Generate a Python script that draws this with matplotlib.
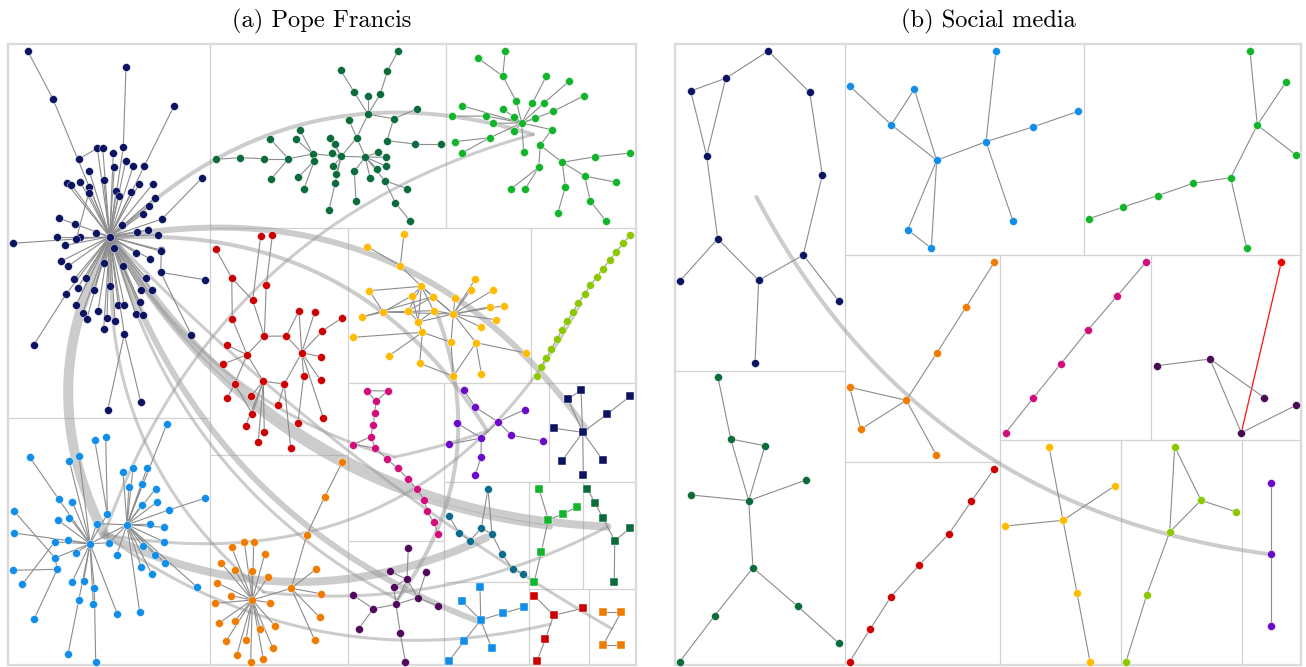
import numpy as np
import matplotlib
matplotlib.use("Agg")
import matplotlib.pyplot as plt
from matplotlib.collections import LineCollection
from matplotlib.patches import Rectangle

# ============ canvas (pixel coordinates) ============
W, H = 1306, 667
PX = 0.72  # 1 px in points at dpi 100

# ============ panel (a): treemap cells ============
A_OUTER = (8, 44, 636, 665)
A_CELLS = [
    (8, 44, 210, 418), (210, 44, 446, 228), (446, 44, 636, 228), (8, 418, 210, 665),
    (210, 228, 348, 455), (348, 228, 531, 383), (531, 228, 636, 383), (348, 383, 444, 541),
    (444, 383, 549, 482), (549, 383, 636, 482), (210, 455, 348, 665), (348, 541, 444, 665),
    (444, 482, 529, 582), (529, 482, 583, 589), (583, 482, 636, 589), (444, 582, 529, 665),
    (529, 589, 589, 665), (589, 589, 636, 665),
]

# ============ panel (a): clusters ============
NAVY_XY = [
    (109.7, 236.7), (27.7, 51), (53, 99), (126, 67), (123.3, 147.3), (174, 106), (144.3, 166), (97.3, 148.3), (102.7, 148.3), (113.3, 153),
    (78.7, 159), (125.7, 161), (133.3, 166.3), (114.3, 167), (89.3, 171), (201.7, 178.3), (162, 219), (103.7, 180.3), (66.7, 183.3), (71.3, 184.7),
    (80.3, 181.7), (139.3, 183.7), (152.7, 184), (89.3, 186.7), (116, 191), (131.3, 192), (88.7, 193), (118.7, 196.3), (154.7, 198), (149.3, 206),
    (143, 214), (58.7, 218), (74.7, 224), (122.3, 225.3), (95.7, 232.7), (137, 232), (148, 230), (157.7, 234.7), (56.7, 236.7), (80, 236.7),
    (76.3, 239), (12.7, 243.3), (65.3, 245.3), (114, 248), (161, 250), (136, 253), (149.7, 258.7), (161.3, 251.3), (61, 261.3), (68.3, 266),
    (103.7, 263.3), (123.3, 265.7), (160.7, 272.3), (204.7, 279.7), (74.3, 279), (86, 277.7), (146, 277.7), (77.7, 287.7), (94, 289.7), (110.3, 286.3),
    (141.3, 290.3), (152, 290), (66, 294.3), (76, 305), (118.3, 305), (124.3, 305), (139.7, 302.3), (82.7, 312.7), (98, 311.3), (135.7, 314),
    (143, 315), (86.7, 319.3), (107, 317.7), (115, 321.3), (103.7, 329), (124.3, 334), (191.3, 335), (33.7, 345), (140.7, 401.7), (107.7, 410.3),
]
NAVY_PARENT = [
    -1, 2, 0, 4, 0, 6, 0, 0, 0, 0,
    7, 0, 0, 0, 0, 16, 0, 0, 0, 0,
    0, 0, 0, 0, 0, 0, 0, 0, 0, 0,
    0, 32, 0, 0, 0, 0, 0, 0, 0, 0,
    26, 0, 0, 0, 0, 0, 0, 0, 0, 0,
    0, 0, 47, 52, 0, 0, 0, 0, 0, 0,
    0, 0, 0, 0, 0, 0, 0, 0, 0, 0,
    0, 0, 0, 0, 0, 0, 52, 62, 75, 75,
]

DGREEN_XY = [
    (215.7, 159.3), (239.7, 157.7), (264, 158.7), (288.3, 158.7), (270, 138.7), (271.3, 179), (312.7, 154), (300, 130), (296, 139.3), (314.3, 160.7),
    (298.3, 177.3), (304, 188.7), (341.3, 156.3), (365.3, 157), (330, 138.3), (334.7, 144), (332, 153), (333.3, 166.3), (336, 173.7), (335.3, 182.7),
    (329, 209.7), (356.7, 137.7), (349, 120), (368, 114.3), (354, 91.7), (340.7, 70.3), (368, 96), (380.3, 94), (387.3, 71.3), (398, 51),
    (393.7, 118.7), (417.3, 108.7), (387, 140.7), (415, 144), (440.7, 144), (377.7, 152.3), (385.7, 157.3), (385.7, 166), (377, 168.7), (354.3, 171.3),
    (356, 201.3), (370, 177.7), (384.7, 180.7), (407.3, 188.7), (395.3, 202.7), (410.3, 221.3),
]
DGREEN_EDGES = [
    (0, 1), (1, 2), (2, 3), (3, 4), (3, 5), (3, 6), (6, 7), (6, 8), (6, 9), (9, 10), (9, 11), (6, 12),
    (12, 14), (12, 15), (12, 16), (12, 17), (12, 18), (12, 19), (19, 20), (12, 13), (12, 21), (13, 21),
    (21, 22), (21, 23), (23, 24), (24, 25), (23, 26), (23, 27), (27, 28), (28, 29), (23, 30), (30, 31),
    (30, 32), (32, 33), (33, 34), (13, 35), (13, 36), (13, 37), (13, 38), (13, 39), (39, 40), (13, 41),
    (13, 42), (42, 43), (42, 44), (44, 45),
]

GREEN_XY = [
    (521.7, 123), (516.3, 101.3), (502.7, 76), (505.3, 51), (478.3, 58.3), (532.3, 103.3), (546.3, 76.3), (544.3, 102.7), (569, 81.3), (553.3, 111.3),
    (584, 95.7), (462, 105.7), (503.3, 109.3), (486.3, 116), (451.7, 116.3), (514.3, 116.7), (535.3, 118.3), (493.3, 123.3), (514, 131), (489.7, 137.7),
    (454.7, 141.7), (462, 153), (523.7, 152), (551.7, 129.7), (540.3, 145.3), (538.7, 167.3), (562.3, 162.3), (595.3, 156.7), (630.3, 153), (584.7, 176),
    (616.3, 182.3), (565.3, 187), (557.7, 213.3), (590.3, 201.3), (606.3, 221.3), (511.3, 188.7), (525, 189.3),
]
GREEN_PARENT = [
    -1, 0, 1, 2, 2, 0, 5, 0, 7, 0,
    9, 0, 0, 0, 13, 0, 0, 0, 0, 0,
    19, 19, 0, 0, 23, 24, 24, 26, 27, 26,
    29, 26, 31, 29, 33, 25, 25,
]

RED_XY = [
    (260.7, 235.7), (272.3, 235.3), (215.7, 249), (231.7, 278), (266.3, 285.3), (252.7, 300.3), (232.3, 318.7), (299, 310.7), (314.7, 312), (322.3, 331),
    (342.3, 317.7), (264.3, 336.3), (286.3, 336), (227.3, 345.3), (301.7, 352.7), (247, 354.7), (320.7, 356.7), (223.3, 364), (303.7, 375.7), (320.7, 380.3),
    (263.3, 381.3), (234.7, 383.7), (284.3, 384), (251.3, 395.7), (227.3, 398), (278.3, 404.7), (252.3, 414), (323.3, 418), (298, 422.7), (245.7, 425.7),
    (264.3, 431.7), (258.3, 441.7), (290.7, 448),
]
RED_EDGES = [
    (0, 5), (1, 4), (2, 3), (3, 5), (3, 6), (5, 11), (4, 11), (6, 15), (11, 15), (11, 12), (12, 7), (12, 14),
    (14, 7), (14, 8), (14, 9), (9, 10), (14, 16), (14, 19), (14, 18), (14, 22), (18, 28), (15, 13), (15, 17),
    (15, 21), (15, 20), (20, 22), (20, 23), (20, 26), (20, 30), (20, 31), (20, 29), (21, 24), (21, 26),
    (22, 25), (22, 32), (14, 27),
]

YELLOW_XY = [
    (367.3, 246.7), (404, 234), (400.3, 265.7), (475, 279.3), (369.3, 290.7), (421.3, 286.3), (470.7, 290), (493.3, 290), (412, 295.7), (433, 296.7),
    (455, 298.3), (489.7, 306.7), (504.3, 305.7), (383.3, 312), (408.3, 310.7), (433.7, 310.7), (453.3, 314), (361.7, 317), (496, 319.7), (418.3, 322),
    (481.3, 327.3), (422.3, 332.3), (353.3, 337.3), (451, 342.3), (476, 342.7), (525.7, 353), (388.7, 356), (419.7, 363.3), (453.3, 376.3), (481.3, 373.7),
]
YELLOW_EDGES = [
    (0, 2), (1, 2), (2, 5), (4, 5), (4, 13), (5, 8), (5, 9), (5, 15), (5, 19), (5, 16), (8, 13), (8, 19),
    (9, 16), (9, 14), (13, 16), (13, 17), (14, 5), (14, 19), (15, 16), (15, 19), (16, 3), (16, 6), (16, 7),
    (16, 10), (16, 11), (16, 12), (16, 18), (16, 20), (16, 23), (16, 24), (16, 19), (17, 9), (19, 21),
    (21, 22), (21, 26), (21, 27), (21, 23), (27, 28), (23, 28), (24, 28), (24, 29), (24, 25), (13, 15),
]

YGREEN_XY = [
    (536.7, 376.3), (541, 367), (546.3, 357.7), (551.3, 348.7), (556.7, 339.3), (562, 330), (567.3, 321), (572.7, 312), (578.3, 303),
    (584.7, 294), (590.3, 285.3), (596.7, 277), (603, 268.7), (609.7, 260), (616.3, 251.7), (623.3, 243.3), (630, 235.3),
]

MAGENTA_XY = [
    (366.7, 390.7), (387.7, 391), (376, 401.3), (374.7, 413), (373.3, 424.7), (370.7, 436.7), (353.3, 444.5), (375.3, 448),
    (386.7, 458.7), (397.7, 468.3), (407.7, 478.7), (417, 489.3), (424.3, 500), (427.3, 511.3), (433.7, 522.3), (438, 533.7),
]
MAGENTA_EDGES = [(0, 1), (0, 2), (1, 2), (2, 3), (3, 4), (4, 5), (5, 6), (5, 7), (6, 7), (7, 8), (8, 9),
                 (9, 10), (10, 11), (11, 12), (12, 13), (13, 14), (14, 15)]

PURPLE_XY = [(464, 390.3), (475.3, 407.3), (457, 423), (498, 421.7), (524.7, 409.7), (511.3, 435.3),
             (481.3, 438), (449, 444.3), (543.3, 441), (481, 457), (475.3, 475)]
PURPLE_EDGES = [(0, 1), (1, 3), (3, 4), (3, 5), (2, 6), (6, 3), (6, 7), (6, 9), (9, 10), (5, 8)]

NAVYSQ_XY = [(581, 390.3), (568, 399), (630, 396.3), (607.3, 414), (554.3, 428.3), (582.7, 432.3),
             (561.7, 461.3), (583.3, 474.7), (603, 460.3)]
NAVYSQ_EDGES = [(0, 1), (1, 5), (0, 5), (5, 3), (3, 2), (5, 4), (5, 6), (5, 7), (5, 8)]

TEAL_XY = [(488, 489), (448.7, 516), (459.3, 533), (470, 540.7), (481.3, 528), (492, 534.3),
           (502, 554), (512.7, 569), (523.3, 573.7)]
TEAL_EDGES = [(0, 4), (0, 5), (1, 2), (2, 3), (3, 4), (4, 5), (5, 6), (6, 7), (7, 8)]

GREENSQ_XY = [(539, 489), (548.3, 519.7), (563, 514), (576.7, 507), (541.3, 552), (534.3, 581.7)]
GREENSQ_EDGES = [(0, 1), (1, 2), (2, 3), (1, 4), (4, 5)]

DGREENSQ_XY = [(587.3, 489), (595, 502.7), (602.7, 517.7), (614.7, 540.7), (630, 528.3), (614.3, 581.7)]
DGREENSQ_EDGES = [(0, 1), (1, 2), (2, 3), (3, 4), (3, 5)]

BLUESQ_XY = [(480, 587.3), (461.7, 601), (480.7, 620), (502.7, 613.3), (523.7, 607.3),
             (464, 641.3), (448.7, 661.3), (491.7, 648.3)]
BLUESQ_EDGES = [(0, 2), (1, 2), (2, 3), (3, 4), (2, 5), (5, 6), (2, 7)]

REDSQ_XY = [(534.3, 595.7), (553.7, 615.3), (583, 608.3), (545.3, 639.3), (537, 661.3)]
REDSQ_EDGES = [(0, 1), (1, 2), (1, 3), (3, 4)]

ORANGESQ_XY = [(603, 612.3), (621, 612.3), (603, 645.3), (621, 645.3)]
ORANGESQ_EDGES = [(0, 1), (1, 2), (2, 3)]

DPURPLE_XY = [(408.3, 547.7), (389.7, 571.3), (407, 579.3), (426, 572.3), (393.7, 587), (353.3, 595.3), (417.7, 597.7),
              (438, 605.7), (396, 604.3), (373.3, 608.7), (358.7, 628.7), (400.3, 633.3), (405.3, 661.7)]
DPURPLE_EDGES = [(0, 2), (1, 2), (4, 2), (3, 6), (2, 6), (4, 8), (2, 8), (8, 6), (6, 7), (8, 9), (9, 5),
                 (9, 10), (8, 11), (11, 12)]

ORANGE_XY = [
    (252.3, 600), (291.3, 588.3), (306.7, 535), (324.7, 496.7), (342.3, 462), (315.7, 569.3), (320.7, 593.7), (319.7, 617.3), (314.7, 640), (231.7, 547.3),
    (244.3, 542), (253.7, 542), (264.7, 554), (221.3, 563.3), (235, 570), (251.7, 570.7), (268.3, 576.7), (216.7, 582.7), (231, 595.7), (215.3, 603.3),
    (270.3, 602.7), (235, 620.7), (218.7, 623.3), (275.3, 626.3), (260.3, 628.7), (226, 641.3), (246, 640), (272.7, 647.7), (236.7, 655.3), (250.7, 661.7),
    (263.3, 658.7),
]
ORANGE_PARENT = [-1, 0, 1, 2, 3, 1, 1, 1, 1, 0] + [0] * 21

BLUE_XY = [
    (90, 543.7), (127, 524.7), (29.7, 457), (58.7, 499.3), (69.3, 461), (79, 456), (94.7, 440), (105.7, 437.3), (166.7, 424.3), (123, 472.3),
    (107.3, 514), (133, 468), (147, 468.3), (128.7, 487.3), (142.3, 484.3), (155.7, 488.7), (157, 502), (72.3, 502), (204.7, 498.3), (168.7, 510),
    (141.7, 505), (13.7, 510.7), (69.3, 517.7), (57.7, 520), (96.7, 523.7), (150.3, 524.3), (164.3, 527.3), (14.3, 533), (54.7, 542), (68, 540),
    (109, 542.7), (164, 541.7), (142.7, 546.3), (76.3, 552.7), (55, 558), (116.7, 555), (155, 555), (164.7, 563), (57.3, 569.3), (12.7, 570.3),
    (141.3, 567.3), (151.7, 574), (197.3, 587.3), (22.3, 584.3), (72.3, 581.7), (83.7, 580.7), (94.3, 587.7), (78.7, 600.3), (93.3, 604), (117.3, 614),
    (139.7, 612), (34.3, 618.7), (68, 654), (95.7, 661.7),
]
BLUE_PARENT = [
    -1, 0, 3, 0, 0, 0, 10, 10, 1, 1,
    0, 1, 1, 1, 1, 1, 1, 0, 19, 1,
    1, 34, 0, 0, 0, 1, 1, 0, 0, 0,
    0, 1, 1, 0, 0, 1, 1, 1, 34, 38,
    1, 1, 1, 28, 0, 0, 0, 0, 0, 0,
    1, 38, 47, 46,
]
BLUE_EXTRA = [(24, 1), (30, 1)]

# flows between clusters (a): source, target, width in px, bend
FLOWS_A = [
    ("navy", "blue", 10, 0.27), ("blue", "teal", 8, 0.24), ("navy", "green", 4, -0.30),
    ("blue", "green", 3, -0.26), ("navy", "navysq", 6, -0.32), ("navy", "purple", 4, -0.30),
    ("navy", "dgreensq", 8, 0.26), ("navy", "greensq", 5, 0.25), ("navy", "bluesq", 6, 0.24),
    ("navy", "orange", 3, 0.26), ("navy", "dpurple", 3, 0.22), ("navy", "magenta", 3, 0.20),
    ("blue", "ygreen", 3, 0.36), ("yellow", "dpurple", 4, -0.27), ("orange", "dgreensq", 3, 0.155),
    ("blue", "redsq", 3, 0.23), ("navy", "orangesq", 3, 0.07), ("magenta", "purple", 3, 0.03),
]

# ============ panel (b) ============
B_OUTER = (675, 44, 1301, 665)
B_CELLS = [
    (675, 44, 845, 371), (845, 44, 1084, 255), (1084, 44, 1301, 255), (675, 371, 845, 665),
    (845, 255, 1000, 462), (1000, 255, 1151, 440), (1151, 255, 1301, 440), (845, 462, 1000, 665),
    (1000, 440, 1121, 665), (1121, 440, 1242, 665), (1242, 440, 1301, 665),
]

SNAVY_XY = [(768.3, 51), (725.7, 78.3), (690.7, 91), (809.7, 92.3), (706.7, 156), (822.3, 175),
            (717.7, 238.7), (803.3, 255), (758.7, 280.3), (679.7, 281.3), (839, 301.3), (755, 363.3)]
SNAVY_EDGES = [(0, 1), (0, 3), (1, 2), (1, 4), (2, 4), (3, 5), (4, 6), (5, 7), (6, 8), (6, 9),
               (8, 7), (7, 10), (8, 11)]

SBLUE_XY = [(849.7, 86), (914.3, 89.3), (891.3, 124.7), (936.7, 160.3), (986, 141.7), (907.7, 229.7),
            (931.3, 248.3), (996, 51), (1032.7, 127), (1078.3, 111.3), (1013, 221.3)]
SBLUE_EDGES = [(0, 2), (2, 1), (1, 3), (2, 3), (3, 4), (3, 5), (5, 6), (3, 6), (4, 7), (4, 8), (8, 9), (4, 10)]

SGREEN_XY = [(1250, 51), (1286, 82), (1257.3, 125), (1296, 155), (1230.7, 177.7), (1193, 183.3),
             (1157.7, 195.7), (1123.3, 207), (1089, 218.7), (1246.7, 248.3)]
SGREEN_EDGES = [(0, 2), (1, 2), (2, 3), (2, 4), (4, 5), (5, 6), (6, 7), (7, 8), (4, 9)]

SDGREEN_XY = [(718, 377.3), (730.7, 439), (765, 445.7), (806, 480), (691.3, 495), (748.7, 500.7),
              (753, 567.7), (714.7, 615.7), (797.7, 606.3), (679.7, 661.7), (839, 643.3)]
SDGREEN_EDGES = [(0, 1), (1, 2), (1, 5), (2, 5), (5, 3), (5, 4), (5, 6), (6, 7), (6, 8), (7, 9), (8, 10)]

SORANGE_XY = [(994.3, 262.3), (966, 307), (937, 352.7), (906.3, 400.3), (849.7, 387.3), (860.7, 429.3), (936.3, 455)]
SORANGE_EDGES = [(0, 1), (1, 2), (2, 3), (3, 4), (4, 5), (5, 3), (3, 6)]

SMAGENTA_XY = [(1146, 262.3), (1117, 296), (1088.3, 329.7), (1060.7, 364), (1033, 398.3), (1005.7, 432.7)]

SDPURPLE_XY = [(1156.7, 365.7), (1210, 359), (1264.3, 397.7), (1296, 405.3), (1241.3, 432.7)]
SDPURPLE_EDGES = [(0, 1), (1, 2), (1, 4), (4, 3)]
SRED_TIP = (1281.3, 262.3)  # node joined to the dark purple group by the red edge

SRED_XY = [(849.7, 661.7), (870, 629.3), (890.7, 597), (919, 565.3), (949, 533.7), (971.3, 501.3), (994, 469)]

SYELLOW_XY = [(1049, 446.7), (1115, 485.7), (1005.3, 526), (1063, 520.3), (1077, 593), (1090, 661.7)]
SYELLOW_EDGES = [(0, 3), (3, 1), (3, 2), (3, 4), (4, 5)]

SYGREEN_XY = [(1174.7, 446.7), (1201, 500.3), (1235.7, 511.7), (1169.7, 532), (1146.7, 595), (1126, 661.7)]
SYGREEN_EDGES = [(0, 1), (1, 2), (0, 3), (1, 3), (3, 4), (4, 5)]

SPURPLE_XY = [(1271, 482.7), (1271, 554.3), (1271, 626)]

FLOWS_B = [("snavy", "spurple", 4, 0.26)]

# ============ colours ============
C_NAVY = "#0c1461"
C_DGREEN = "#0b6b3a"
C_GREEN = "#12b52a"
C_RED = "#cc0000"
C_YELLOW = "#ffbb00"
C_YGREEN = "#8cc800"
C_MAGENTA = "#d10f7c"
C_PURPLE = "#6b0ac9"
C_BLUE = "#118ee8"
C_ORANGE = "#ef7c00"
C_DPURPLE = "#4f0a5c"
C_TEAL = "#0d6b8c"
EDGE_C = "#8c8c8c"
FLOW_C = "#9a9a9a"
CELL_C = "#d2d2d2"


def chain(n):
    return [(i, i + 1) for i in range(n - 1)]


def from_parent(parent, extra=()):
    return [(i, p) for i, p in enumerate(parent) if p >= 0] + list(extra)


def draw_cells(ax, outer, cells):
    for x0, y0, x1, y1 in cells:
        ax.add_patch(Rectangle((x0, y0), x1 - x0, y1 - y0, fill=False,
                               edgecolor=CELL_C, lw=0.8, zorder=1))
    x0, y0, x1, y1 = outer
    ax.add_patch(Rectangle((x0, y0), x1 - x0, y1 - y0, fill=False,
                           edgecolor="#dadada", lw=1.6, zorder=1))


def draw_nodes(ax, xy, color, marker="o"):
    xy = np.array(xy, dtype=float)
    ms = 5.7 if marker == "o" else 5.3
    ax.plot(xy[:, 0], xy[:, 1], linestyle="none", marker=marker, ms=ms,
            mfc=color, mec="white", mew=0.3, zorder=4)


def draw_cluster(ax, xy, edges, color, marker="o"):
    xy = np.array(xy, dtype=float)
    segs = [[xy[i], xy[j]] for i, j in edges]
    ax.add_collection(LineCollection(segs, colors=EDGE_C, linewidths=0.8, zorder=3))
    draw_nodes(ax, xy, color, marker)
    return xy.mean(axis=0)


def draw_flow(ax, p0, p1, width, bend):
    p0 = np.asarray(p0)
    p1 = np.asarray(p1)
    d = p1 - p0
    ctrl = (p0 + p1) / 2 + bend * np.array([-d[1], d[0]])
    t = np.linspace(0, 1, 80)[:, None]
    pts = (1 - t) ** 2 * p0 + 2 * t * (1 - t) * ctrl + t ** 2 * p1
    ax.plot(pts[:, 0], pts[:, 1], color=FLOW_C, alpha=0.5, lw=width * PX,
            solid_capstyle="round", zorder=2)


fig = plt.figure(figsize=(W / 100, H / 100), dpi=100)
ax = fig.add_axes([0, 0, 1, 1])
ax.set_xlim(0, W)
ax.set_ylim(H, 0)
ax.axis("off")

draw_cells(ax, A_OUTER, A_CELLS)
draw_cells(ax, B_OUTER, B_CELLS)

cent = {}
cent["navy"] = draw_cluster(ax, NAVY_XY, from_parent(NAVY_PARENT), C_NAVY)
cent["dgreen"] = draw_cluster(ax, DGREEN_XY, DGREEN_EDGES, C_DGREEN)
cent["green"] = draw_cluster(ax, GREEN_XY, from_parent(GREEN_PARENT), C_GREEN)
cent["red"] = draw_cluster(ax, RED_XY, RED_EDGES, C_RED)
cent["yellow"] = draw_cluster(ax, YELLOW_XY, YELLOW_EDGES, C_YELLOW)
cent["ygreen"] = draw_cluster(ax, YGREEN_XY, chain(len(YGREEN_XY)), C_YGREEN)
cent["magenta"] = draw_cluster(ax, MAGENTA_XY, MAGENTA_EDGES, C_MAGENTA)
cent["purple"] = draw_cluster(ax, PURPLE_XY, PURPLE_EDGES, C_PURPLE)
cent["navysq"] = draw_cluster(ax, NAVYSQ_XY, NAVYSQ_EDGES, C_NAVY, "s")
cent["teal"] = draw_cluster(ax, TEAL_XY, TEAL_EDGES, C_TEAL)
cent["greensq"] = draw_cluster(ax, GREENSQ_XY, GREENSQ_EDGES, C_GREEN, "s")
cent["dgreensq"] = draw_cluster(ax, DGREENSQ_XY, DGREENSQ_EDGES, C_DGREEN, "s")
cent["bluesq"] = draw_cluster(ax, BLUESQ_XY, BLUESQ_EDGES, C_BLUE, "s")
cent["redsq"] = draw_cluster(ax, REDSQ_XY, REDSQ_EDGES, C_RED, "s")
cent["orangesq"] = draw_cluster(ax, ORANGESQ_XY, ORANGESQ_EDGES, C_ORANGE, "s")
cent["dpurple"] = draw_cluster(ax, DPURPLE_XY, DPURPLE_EDGES, C_DPURPLE)
cent["orange"] = draw_cluster(ax, ORANGE_XY, from_parent(ORANGE_PARENT), C_ORANGE)
cent["blue"] = draw_cluster(ax, BLUE_XY, from_parent(BLUE_PARENT, BLUE_EXTRA), C_BLUE)

cent["snavy"] = draw_cluster(ax, SNAVY_XY, SNAVY_EDGES, C_NAVY)
cent["sblue"] = draw_cluster(ax, SBLUE_XY, SBLUE_EDGES, C_BLUE)
cent["sgreen"] = draw_cluster(ax, SGREEN_XY, SGREEN_EDGES, C_GREEN)
cent["sdgreen"] = draw_cluster(ax, SDGREEN_XY, SDGREEN_EDGES, C_DGREEN)
cent["sorange"] = draw_cluster(ax, SORANGE_XY, SORANGE_EDGES, C_ORANGE)
cent["smagenta"] = draw_cluster(ax, SMAGENTA_XY, chain(len(SMAGENTA_XY)), C_MAGENTA)
# red edge from the lowest dark purple node to the red node above it
ax.plot([SDPURPLE_XY[4][0], SRED_TIP[0]], [SDPURPLE_XY[4][1], SRED_TIP[1]],
        color="#ff1010", lw=0.9, zorder=3)
draw_nodes(ax, [SRED_TIP], "#ee0000")
cent["sdpurple"] = draw_cluster(ax, SDPURPLE_XY, SDPURPLE_EDGES, "#4a0a55")
cent["sred"] = draw_cluster(ax, SRED_XY, chain(len(SRED_XY)), C_RED)
cent["syellow"] = draw_cluster(ax, SYELLOW_XY, SYELLOW_EDGES, C_YELLOW)
cent["sygreen"] = draw_cluster(ax, SYGREEN_XY, SYGREEN_EDGES, C_YGREEN)
cent["spurple"] = draw_cluster(ax, SPURPLE_XY, chain(len(SPURPLE_XY)), C_PURPLE)

for src, dst, w, b in FLOWS_A + FLOWS_B:
    draw_flow(ax, cent[src], cent[dst], w, b)

ax.text(322, 21, "(a) Pope Francis", ha="center", va="center", fontsize=17.6, family="cmr10")
ax.text(988, 21, "(b) Social media", ha="center", va="center", fontsize=17.6, family="cmr10")

fig.savefig("out.png", dpi=100)
